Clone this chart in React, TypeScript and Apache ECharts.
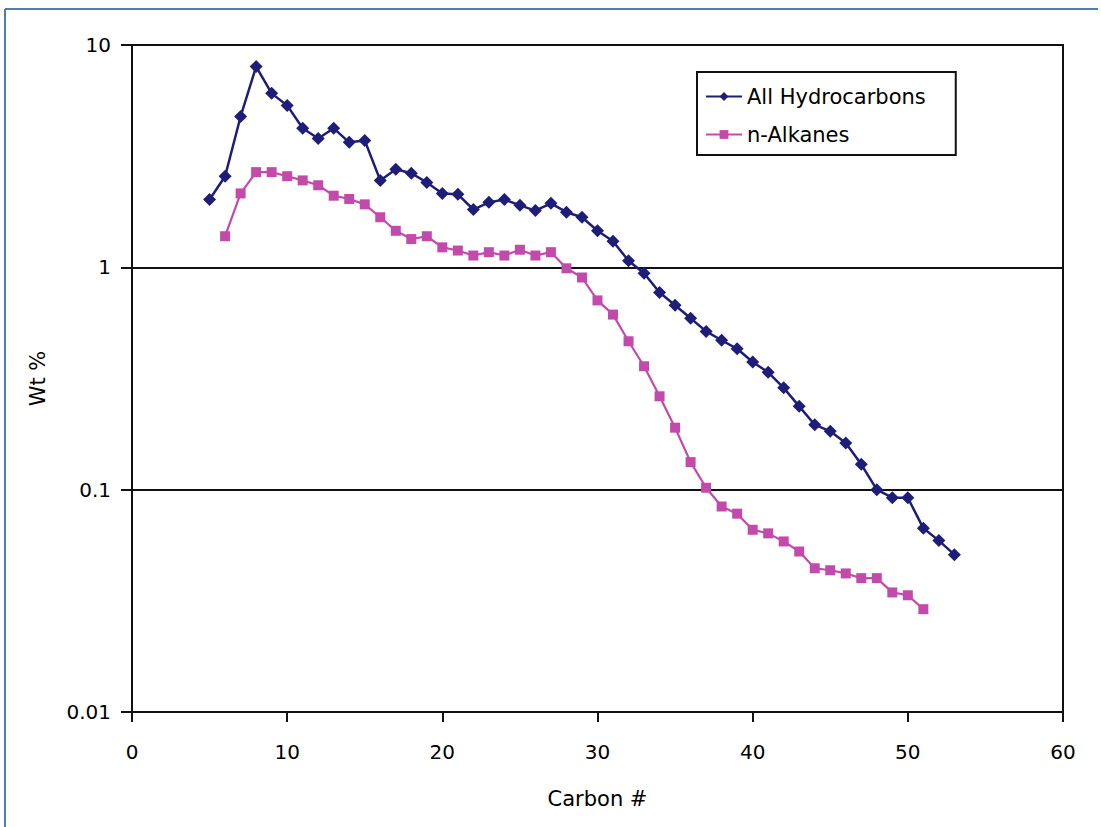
import React, { useEffect, useRef } from "react";
import * as echarts from "echarts";

const carbonAll = [5, 6, 7, 8, 9, 10, 11, 12, 13, 14, 15, 16, 17, 18, 19, 20, 21, 22, 23, 24, 25, 26, 27, 28, 29, 30, 31, 32, 33, 34, 35, 36, 37, 38, 39, 40, 41, 42, 43, 44, 45, 46, 47, 48, 49, 50, 51, 52, 53];
const allHydrocarbons = [2.02, 2.57, 4.77, 8.0, 6.06, 5.35, 4.22, 3.8, 4.22, 3.65, 3.72, 2.46, 2.76, 2.65, 2.41, 2.15, 2.13, 1.82, 1.96, 2.02, 1.9, 1.8, 1.94, 1.77, 1.68, 1.46, 1.31, 1.07, 0.94, 0.77, 0.675, 0.59, 0.515, 0.47, 0.43, 0.375, 0.337, 0.287, 0.237, 0.196, 0.183, 0.162, 0.13, 0.1, 0.092, 0.092, 0.067, 0.059, 0.051];

const carbonAlk = [6, 7, 8, 9, 10, 11, 12, 13, 14, 15, 16, 17, 18, 19, 20, 21, 22, 23, 24, 25, 26, 27, 28, 29, 30, 31, 32, 33, 34, 35, 36, 37, 38, 39, 40, 41, 42, 43, 44, 45, 46, 47, 48, 49, 50, 51];
const nAlkanes = [1.38, 2.15, 2.68, 2.68, 2.57, 2.46, 2.34, 2.1, 2.03, 1.92, 1.68, 1.46, 1.34, 1.38, 1.23, 1.19, 1.13, 1.17, 1.13, 1.2, 1.13, 1.17, 0.99, 0.9, 0.71, 0.613, 0.465, 0.359, 0.263, 0.19, 0.133, 0.102, 0.084, 0.078, 0.066, 0.0636, 0.0585, 0.0527, 0.0443, 0.0434, 0.042, 0.04, 0.04, 0.0345, 0.0335, 0.029];

const xTicks = [0, 10, 20, 30, 40, 50, 60];
const yTickLabels: Record<string, string> = { "0.01": "0.01", "0.1": "0.1", "1": "1", "10": "10" };

const FONT = "DejaVu Sans";
const TEXT = "#000";

export default function App() {
  const ref = useRef<HTMLDivElement>(null);
  useEffect(() => {
    if (!ref.current) return;
    const chart = echarts.init(ref.current, null, { renderer: "svg" });
    chart.setOption({
      animation: false,
      backgroundColor: "#ffffff",
      grid: {
        left: 132,
        right: 38,
        top: 45,
        bottom: 115,
        show: true,
        borderColor: "#111",
        borderWidth: 2,
        backgroundColor: "transparent",
      },
      legend: {
        orient: "vertical",
        left: 697,
        top: 72,
        backgroundColor: "#fff",
        borderColor: "#111",
        borderWidth: 2,
        padding: [14, 30, 10, 8],
        itemGap: 17,
        itemWidth: 36,
        itemHeight: 11,
        textStyle: { fontFamily: FONT, fontSize: 21, color: TEXT },
        data: ["All Hydrocarbons", "n-Alkanes"],
      },
      xAxis: {
        type: "value",
        min: xTicks[0],
        max: xTicks[xTicks.length - 1],
        interval: 10,
        name: "Carbon #",
        nameLocation: "middle",
        nameGap: 76,
        nameTextStyle: { fontFamily: FONT, fontSize: 21, color: TEXT },
        axisLine: { show: true, onZero: false, lineStyle: { color: "#111", width: 2 } },
        axisTick: { show: true, length: 10, lineStyle: { color: "#111", width: 2 } },
        axisLabel: { margin: 30, fontFamily: FONT, fontSize: 20, color: TEXT },
        splitLine: { show: false },
      },
      yAxis: {
        type: "log",
        logBase: 10,
        min: 0.01,
        max: 10,
        name: "Wt %",
        nameLocation: "middle",
        nameGap: 84,
        nameRotate: 90,
        nameTextStyle: { fontFamily: FONT, fontSize: 21, color: TEXT },
        axisLine: { show: true, lineStyle: { color: "#111", width: 2 } },
        axisTick: { show: true, length: 11, lineStyle: { color: "#111", width: 2 } },
        axisLabel: {
          margin: 21,
          fontFamily: FONT,
          fontSize: 20,
          color: TEXT,
          formatter: (v: number) => {
            const k = String(Number(v.toPrecision(3)));
            return yTickLabels[k] ?? k;
          },
        },
        splitLine: { show: true, lineStyle: { color: "#111", width: 2 } },
        minorTick: { show: false },
      },
      series: [
        {
          name: "All Hydrocarbons",
          type: "line",
          data: carbonAll.map((c, i) => [c, allHydrocarbons[i]]),
          symbol: "diamond",
          symbolSize: 13,
          lineStyle: { color: "#1e1e78", width: 2.5 },
          itemStyle: { color: "#1e1e78" },
          z: 3,
        },
        {
          name: "n-Alkanes",
          type: "line",
          data: carbonAlk.map((c, i) => [c, nAlkanes[i]]),
          symbol: "rect",
          symbolSize: 10,
          lineStyle: { color: "#c24aab", width: 2.2 },
          itemStyle: { color: "#c24aab" },
          z: 2,
        },
      ],
      graphic: [
        {
          type: "line",
          shape: { x1: 5, y1: 9, x2: 1098, y2: 9 },
          style: { stroke: "#4a7ebb", lineWidth: 2 },
        },
        {
          type: "line",
          shape: { x1: 5, y1: 9, x2: 5, y2: 827 },
          style: { stroke: "#4a7ebb", lineWidth: 2 },
        },
      ],
    });
    return () => chart.dispose();
  }, []);
  return (
    <div
      ref={ref}
      style={{ position: "absolute", left: 0, top: 0, width: 1101, height: 827, background: "#fff" }}
    />
  );
}
